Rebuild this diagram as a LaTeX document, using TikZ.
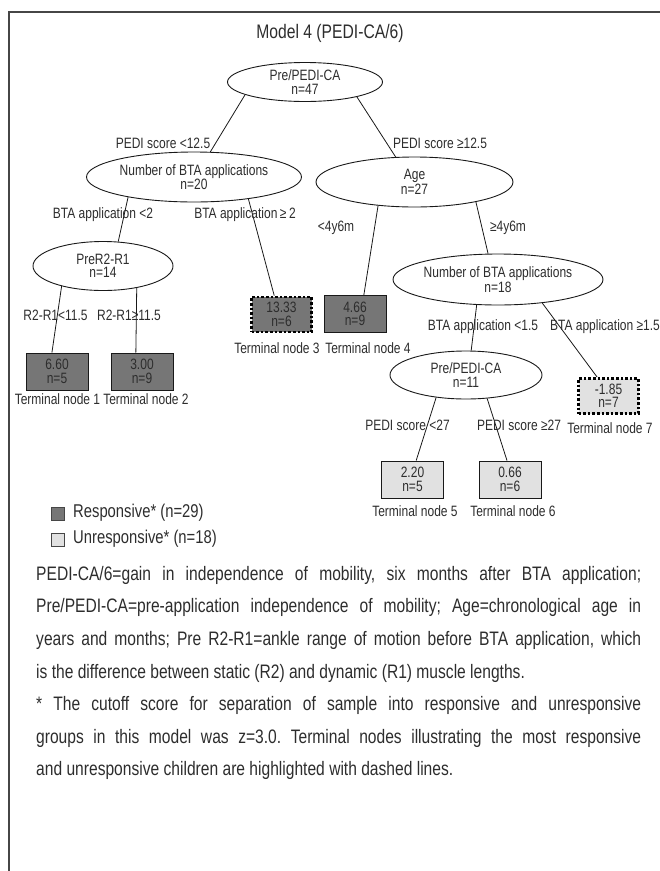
\documentclass[tikz,border=0pt]{standalone}
\usepackage{fontspec}
\setmainfont{Liberation Sans}[FakeStretch=0.8]
\usetikzlibrary{shapes.geometric}
\definecolor{dk}{RGB}{118,118,118}
\definecolor{lt}{RGB}{225,225,225}
\definecolor{txt}{RGB}{45,45,45}
\definecolor{ln}{RGB}{25,25,25}
\definecolor{frm}{RGB}{70,70,70}
\newcommand\lblfont{\fontsize{15}{13.5}\selectfont}
\newcommand\titfont{\fontsize{19.6}{21}\selectfont}
\newcommand\legfont{\fontsize{18.5}{20}\selectfont}
\newcommand\capfont{\fontsize{19.5}{32.6}\selectfont\frenchspacing}
\begin{document}
\begin{tikzpicture}[x=1pt,y=-1pt,
  every node/.style={font=\lblfont, text=txt},
  ell/.style={ellipse, draw=ln, line width=0.9pt, inner sep=-20pt, align=center, fill=white},
  tbox/.style={rectangle, draw=ln, line width=0.9pt, minimum width=62pt, minimum height=37pt, inner sep=0pt, align=center},
  resp/.style={tbox, fill=dk},
  unresp/.style={tbox, fill=lt},
  hl/.style={draw=black, dash pattern=on 2.6pt off 2pt, line width=2.8pt, minimum width=60pt, minimum height=35pt},
  elab/.style={inner sep=0pt},
  con/.style={draw=ln, line width=0.8pt},
  legsq/.style={rectangle, draw=frm, line width=0.6pt, minimum size=13pt, inner sep=0pt},
  legtxt/.style={font=\legfont, anchor=west, inner sep=0pt}
]
\useasboundingbox (0,0) rectangle (660,871);
\draw[frm, line width=1.5pt] (660,12) -- (9,12) -- (9,871);

\node[font=\titfont] (title) at (330,33) {Model 4 (PEDI-CA/6)};

% decision nodes
\node[ell, minimum width=155pt, minimum height=39pt] (root) at (305,82) {Pre/PEDI-CA\\n=47};
\node[ell, minimum width=215pt, minimum height=50pt] (n20) at (194,177) {Number of BTA applications\\n=20};
\node[ell, minimum width=197pt, minimum height=50pt] (age) at (414.5,182) {Age\\n=27};
\node[ell, minimum width=140pt, minimum height=49pt] (prer) at (103,266) {PreR2-R1\\n=14};
\node[ell, minimum width=210pt, minimum height=51pt] (n18) at (498,279.5) {Number of BTA applications\\n=18};
\node[ell, minimum width=152pt, minimum height=48pt] (n11) at (466,375) {Pre/PEDI-CA\\n=11};

% terminal nodes
\node[resp] (t1) at (57,371.5) {6.60\\n=5};
\node[resp] (t2) at (142,371.5) {3.00\\n=9};
\node[resp, hl] (t3) at (281.5,314.5) {13.33\\n=6};
\node[resp] (t4) at (355,314) {4.66\\n=9};
\node[unresp] (t5) at (412.5,479.5) {2.20\\n=5};
\node[unresp] (t6) at (510,479.5) {0.66\\n=6};
\node[unresp, hl] (t7) at (608.5,396) {-1.85\\n=7};

\node (tl1) at (57.5,399) {Terminal node 1};
\node (tl2) at (146,399) {Terminal node 2};
\node (tl3) at (277,348) {Terminal node 3};
\node (tl4) at (368,348) {Terminal node 4};
\node (tl5) at (415,511) {Terminal node 5};
\node (tl6) at (513,511) {Terminal node 6};
\node (tl7) at (610,428) {Terminal node 7};

% connectors
\draw[con] (root.192) -- (n20.57);
\draw[con] (root.344) -- (age.127);
\draw[con] (n20.197) -- (prer.58);
\draw[con] (n20.338) -- (t3.111);
\draw[con] (age.213) -- (t4.65);
\draw[con] (age.342) -- (n18.111);
\draw[con] (prer.206) -- (t1.105);
\draw[con] (prer.327) -- (t2.108);
\draw[con] (n18.230) -- (n11.78);
\draw[con] (n18.332) -- (t7.121);
\draw[con] (n11.217) -- (t5.79);
\draw[con] (n11.312) -- (t6.99);

% edge labels
\node[elab] (e1) at (163,143) {PEDI score <12.5};
\node[elab] (e2) at (440,143) {PEDI score ≥12.5};
\node[elab] (e3) at (103,215) {BTA application <2};
\node[elab] (e4) at (245,215) {BTA application\,≥\,2};
\node[elab] (e5) at (336,228) {<4y6m};
\node[elab] (e6) at (508,228) {≥4y6m};
\node[elab] (e7) at (55.5,315) {R2-R1<11.5};
\node[elab] (e8) at (129,315) {R2-R1≥11.5};
\node[elab] (e9) at (483,327) {BTA application <1.5};
\node[elab] (e10) at (605,327) {BTA application ≥1.5};
\node[elab] (e11) at (407.5,425) {PEDI score <27};
\node[elab] (e12) at (519,425) {PEDI score ≥27};

% legend
\node[legsq, fill=dk] (lg1) at (57.5,513.5) {};
\node[legsq, fill=lt] (lg2) at (57.5,539.5) {};
\node[legtxt] (lgt1) at (73,513) {Responsive* (n=29)};
\node[legtxt] (lgt2) at (73,539) {Unresponsive* (n=18)};

% caption
\node[anchor=north west, inner sep=0pt, text width=605pt, align=justify, font=\capfont] (cap) at (36,566) {%
PEDI-CA/6=gain in independence of mobility, six months after BTA application;\linebreak
Pre/PEDI-CA=pre-application independence of mobility; Age=chronological age in\linebreak
years and months; Pre R2-R1=ankle range of motion before BTA application, which\linebreak
is the difference between static (R2) and dynamic (R1) muscle lengths.\par
* The cutoff score for separation of sample into responsive and unresponsive\linebreak
groups in this model was z=3.0. Terminal nodes illustrating the most responsive\linebreak
and unresponsive children are highlighted with dashed lines.};
\end{tikzpicture}
\end{document}
